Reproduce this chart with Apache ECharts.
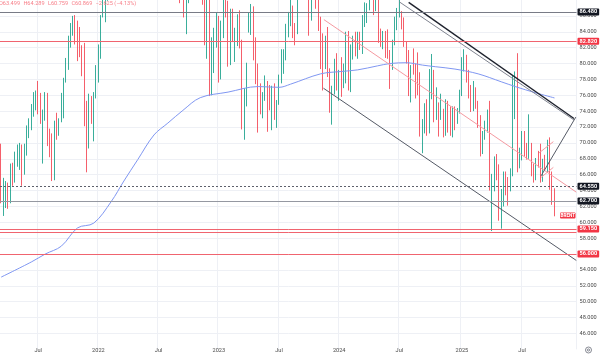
<!DOCTYPE html>
<html><head><meta charset="utf-8">
<script src="https://cdn.jsdelivr.net/npm/echarts@6/dist/echarts.min.js"></script>
<style>html,body{margin:0;padding:0;background:#fff}#c{width:600px;height:358px}</style>
</head><body><div id="c"></div>
<script>
// ---- data (weekly Brent candles, [open, high, low, close]) ----
const firstWeek = '2021-03-15';
const weekSlots = 249; // candle weeks + empty weeks on the right
const ohlc2021 = [
[69.2,69.9,62.4,64.5],[64.2,65.6,60.8,64.6],[64.6,65.2,61.8,64.9],[64.9,65.0,61.7,63.0],
[63.0,67.4,62.4,66.8],[66.8,67.5,64.6,66.1],[66.1,68.9,65.0,67.3],[67.3,69.8,67.0,68.3],
[68.3,70.0,66.6,68.7],[68.7,69.8,64.6,66.4],[66.4,69.9,66.0,69.6],[69.6,72.2,68.4,71.9],
[71.9,73.1,70.6,72.7],[72.7,74.9,71.6,73.5],[73.5,76.4,73.3,76.2],[76.1,76.6,74.1,76.2],
[76.2,77.8,73.6,75.5],[75.5,76.3,72.4,73.6],[73.5,74.2,67.4,74.1],[74.1,76.4,72.8,76.3],
[76.2,76.3,69.6,70.7],[70.7,71.8,68.2,70.6],[70.6,71.2,65.2,65.6],[65.6,72.8,65.3,72.7],
[72.7,73.8,70.4,72.6],[72.6,73.1,70.9,72.9],[72.9,76.3,72.6,75.3],[75.3,78.2,73.1,78.1],
[78.1,80.7,77.6,79.3],[79.3,83.5,79.2,82.4],[82.4,85.1,82.0,84.9],[84.9,86.0,83.5,85.5],
[85.6,86.1,82.4,84.4],[84.4,85.4,80.3,82.7],[82.7,84.6,80.8,82.2],[82.2,82.3,78.4,78.9],
[78.9,82.6,72.1,72.7],[72.7,75.3,66.3,69.9],[70.0,76.2,69.3,75.2],[75.2,75.9,72.4,73.5],
[73.5,76.4,70.2,76.1],[76.1,79.8,75.6,77.8]
];
const ohlc2022 = [
[77.8,82.4,77.6,81.8],[81.8,86.1,80.6,86.1],[86.1,89.5,85.8,87.9],[87.9,91.7,85.2,90.0],
[90.0,94.0,87.9,93.3],[93.3,95.6,89.8,94.4],[94.4,96.8,90.9,93.5],[93.5,105.8,92.9,97.9],
[99.0,119.8,97.5,118.1],[123.0,139.1,105.8,112.7],[112.7,113.5,97.4,107.9],[108.0,122.0,107.3,120.7],
[120.7,121.4,103.5,104.4],[104.4,109.0,98.0,102.8],[102.8,112.6,97.6,111.7],[111.7,114.8,104.8,106.7],
[106.7,109.8,100.2,109.3],[109.3,114.0,102.9,112.4],[112.4,112.5,101.3,111.6],[111.6,115.0,107.0,112.6],
[112.6,120.0,108.6,119.4],[119.4,124.0,113.0,119.7],[119.7,124.0,118.4,122.0],[122.0,123.7,112.4,113.1],
[113.1,115.0,107.0,113.2],[113.1,118.8,108.0,111.6],[111.6,114.0,98.5,107.0],[107.0,107.8,96.6,101.2],
[101.2,108.0,101.0,103.2],[103.2,110.7,100.9,110.0],[110.0,110.3,93.2,94.9],[94.9,100.3,92.8,98.2],
[98.2,98.6,91.5,96.7],[96.7,105.6,95.0,101.0],[101.0,105.0,92.0,93.0],[93.0,97.0,87.6,92.8],
[92.8,95.0,89.6,91.4],[91.4,93.7,85.8,86.2],[86.2,90.0,83.7,88.0],[88.0,98.8,87.6,97.9],
[97.9,98.0,90.9,91.6],[91.6,93.9,89.0,93.5],[93.5,96.6,90.6,95.8],[95.8,98.7,92.4,98.6],
[98.6,99.6,91.9,96.0],[96.0,96.6,87.4,87.6],[87.6,89.8,82.3,83.6],[83.6,89.4,80.6,85.6],
[85.6,88.9,75.9,76.1],[76.1,83.3,76.0,79.0],[79.0,84.5,78.8,83.9],[83.9,86.4,82.0,85.9]
];
const ohlc2023 = [
[85.9,86.0,77.6,78.6],[78.6,85.4,78.0,85.3],[85.3,88.1,83.2,87.6],[87.6,89.1,85.8,86.7],
[86.7,87.9,79.6,80.0],[80.0,86.9,79.8,86.4],[86.4,86.9,82.7,83.0],[83.0,84.5,80.2,83.2],
[83.2,86.2,82.2,85.8],[85.8,86.7,81.9,82.8],[82.8,83.0,71.7,73.0],[73.0,76.9,70.4,75.0],
[75.0,80.1,74.6,79.8],[84.0,86.4,83.9,85.1],[85.1,87.5,83.6,86.3],[86.3,87.2,80.4,81.7],
[81.7,83.3,77.4,79.5],[79.5,80.0,71.3,75.3],[75.3,77.5,73.6,74.2],[74.2,76.4,73.1,75.6],
[75.6,78.5,75.3,77.0],[77.0,77.8,71.4,76.1],[76.8,77.3,74.1,74.8],[74.8,77.2,71.6,76.6],
[76.6,77.5,72.9,73.9],[73.9,75.4,71.9,75.4],[75.5,78.6,74.8,78.5],[78.5,81.8,77.5,79.9],
[79.9,81.8,78.7,81.1],[81.1,85.0,80.4,85.0],[85.0,86.5,83.3,86.2],[86.2,88.1,84.7,86.8],
[86.8,87.3,83.2,84.8],[84.8,85.1,82.3,84.5],[84.5,89.2,83.7,88.6],[88.6,91.2,88.2,90.7],
[90.7,94.3,89.9,93.9],[93.9,95.0,91.8,93.3],[93.3,97.7,91.9,95.3],[95.0,95.5,83.5,84.6],
[87.6,91.0,85.4,90.9],[90.9,94.0,88.9,92.2],[92.2,92.4,86.9,90.5],[90.5,90.8,84.1,84.9],
[84.9,85.9,79.3,81.4],[81.4,83.8,76.6,80.6],[80.5,83.5,79.3,80.6],[80.6,84.6,78.3,78.9],
[78.9,79.4,73.8,75.8],[75.8,77.2,72.3,76.6],[76.6,80.6,76.1,79.1],[79.1,81.3,76.6,77.0]
];
const ohlc2024 = [
[77.0,79.2,75.3,78.8],[78.8,80.8,75.8,78.3],[78.3,80.0,76.9,78.6],[78.6,84.0,77.5,83.6],
[83.6,84.1,76.6,77.3],[77.3,82.4,76.4,82.2],[82.2,83.5,80.5,83.5],[83.5,84.0,80.9,81.6],
[81.6,84.0,80.6,83.6],[83.6,84.0,81.7,82.1],[82.1,86.1,81.2,85.3],[85.3,87.7,84.6,85.4],
[85.4,87.6,85.1,87.5],[87.5,91.9,86.7,91.2],[91.2,91.4,89.1,90.5],[90.5,91.0,86.1,87.3],
[87.3,89.9,86.6,89.5],[89.5,89.9,82.6,83.0],[83.0,84.4,82.1,82.8],[82.8,84.1,81.8,84.0],
[84.0,84.1,80.7,82.1],[82.1,84.3,80.6,81.6],[81.6,81.7,76.8,79.6],[79.6,83.0,79.2,82.6],
[82.6,85.9,82.3,85.2],[85.2,87.0,84.2,86.4],[86.4,88.0,85.8,86.5],[86.5,86.6,84.3,85.0],
[85.0,85.8,82.1,82.6],[82.6,82.8,80.0,81.1],[81.1,81.7,75.9,76.8],[76.8,79.8,75.1,79.7],
[79.8,81.9,78.6,79.7],[79.7,80.0,75.6,79.0],[79.0,81.4,76.0,78.8],[78.8,78.9,70.8,71.1],
[71.1,73.0,68.7,71.6],[71.6,75.0,71.2,74.5],[74.5,75.5,70.9,72.0],[72.0,79.3,71.2,78.1],
[78.1,81.2,75.5,79.0],[79.0,79.2,72.6,73.1],[73.1,77.0,72.9,76.1],[74.0,75.1,70.8,73.1],
[73.1,76.2,72.9,73.9],[73.9,74.3,70.7,71.0],[71.0,75.5,70.9,75.2],[75.2,75.3,71.3,71.8],
[71.8,74.6,70.9,71.1],[71.1,74.6,70.7,74.5],[74.5,74.6,71.6,72.9],[72.9,74.4,72.4,74.2],
[74.2,76.7,73.7,76.5]
];
const ohlc2025 = [
[76.5,80.8,75.9,79.8],[79.8,81.8,79.0,81.0],[81.0,81.1,77.6,78.5],[78.5,79.2,75.6,76.8],
[76.8,77.3,73.9,74.7],[74.6,77.8,74.0,74.7],[74.7,77.0,74.3,74.4],[74.4,75.3,71.9,73.2],
[73.2,73.5,68.3,70.4],[70.4,71.5,68.6,70.6],[70.6,72.8,70.4,72.2],[72.2,74.2,71.3,73.6],
[73.6,75.3,64.0,65.6],[64.2,66.1,58.9,64.8],[64.8,68.3,63.9,68.0],[67.5,68.6,65.3,66.9],
[66.9,67.3,60.2,61.3],[60.0,64.2,59.2,63.9],[63.9,66.4,62.0,65.4],[65.4,66.4,63.4,64.8],
[64.8,65.7,62.1,62.8],[64.0,66.8,63.9,66.5],[66.5,78.5,65.8,74.2],[74.2,79.0,73.0,77.0],
[78.0,81.3,66.3,67.8],[67.8,69.4,66.8,68.3],[68.3,71.5,67.8,70.4],[70.4,71.5,68.3,69.3],
[69.3,70.0,67.9,68.4],[68.4,73.6,68.0,69.7],[69.7,70.0,65.8,66.6],[66.6,67.4,65.0,65.9],
[65.9,68.1,65.3,67.7],[67.7,69.0,66.9,67.5],[67.5,69.9,65.0,65.5],[65.5,68.0,65.1,67.0],
[67.0,68.5,66.6,66.7],[66.7,70.4,66.3,70.1],[70.1,70.7,64.1,64.6],[64.6,66.4,62.2,63.5],
[63.499,64.289,60.759,60.869]
];
// blue moving-average line: [week slot, value]
const maPoints = [[0,53.1],[13,55.0],[19,56.0],[26,57.0],[33,59.3],[40,59.9],[47.5,62.6],[53,65.2],
[59,67.9],[66,71.0],[72,72.5],[78.5,74.1],[86,75.7],[98,76.4],[111,77.1],[120,77.0],[125,77.4],
[138,78.7],[147,79.0],[154,79.2],[162.5,79.7],[168,80.0],[175,80.1],[182,79.8],[187.5,79.6],
[196,79.3],[206,78.7],[216,77.7],[222,77.1],[231,76.3],[239,75.664]];
const maLast = 75.664;
const lastClose = 60.869;
// horizontal levels
const levelValues = [86.48, 82.82, 64.55, 62.70, 59.15, 58.70, 56.00];
const levelKinds  = ['dark','red','dash','grey','red','redNoLabel','red'];
// drawn trend lines: [[slot, price],[slot, price]]
const trendBlack   = [[176.0,87.71],[247.4,73.07]];
const trendGrey    = [[172.0,87.76],[247.4,72.89]];
const trendUp      = [[233.2,65.85],[248.2,73.25]];
const channelLow   = [[139.2,76.89],[248.4,55.20]];
const channelHigh  = [[139.4,85.53],[248.4,63.80]];
const flagTop      = [[232.3,68.73],[238.5,70.16]];
const flagBottom   = [[233.2,65.66],[238.5,66.92]];
const headerText = {o:'63.499', h:'64.289', l:'60.759', c:'60.869', chg:'−2.625 (−4.13%)'};

// ---- build ----
const categories = [];
(function(){ const d0 = new Date(firstWeek+'T00:00:00Z');
  for (let i=0;i<weekSlots;i++){ categories.push(new Date(d0.getTime()+i*7*86400000).toISOString().slice(0,10)); } })();
const allRows = [].concat(ohlc2021, ohlc2022, ohlc2023, ohlc2024, ohlc2025);
const candleData = allRows.map(r => [r[0], r[3], r[2], r[1]]);
function isLabel(i){ const m = +categories[i].slice(5,7); if (m!==1 && m!==7) return false; return i>0 && categories[i-1].slice(5,7)!==categories[i].slice(5,7); }
function labelText(v){ return v.slice(5,7)==='01' ? v.slice(0,4) : 'Jul'; }

const FONT = 'Roboto, "DejaVu Sans", sans-serif';
const RED = '#f23645', TEAL = '#089981';
function boxLabel(text, bg){ return {show:true, position:'end', distance:1, formatter:text, color:'#fff', backgroundColor:bg,
  padding:[1,2,0,2], fontSize:5.6, fontFamily:FONT, fontWeight:'bold', borderRadius:1}; }
const styleByKind = {
  dark: {lineStyle:{color:'#787b86', width:1, type:'solid'}, bg:'#131722'},
  red: {lineStyle:{color:'#f0646f', width:1, type:'solid'}, bg:RED},
  redNoLabel: {lineStyle:{color:'#f0646f', width:1, type:'solid'}, bg:null},
  dash: {lineStyle:{color:'#5d606b', width:1, type:[2,2]}, bg:'#131722'},
  grey: {lineStyle:{color:'#9598a1', width:1.2, type:'solid'}, bg:'#131722'}
};
const markLines = levelValues.map((v,i) => {
  const s = styleByKind[levelKinds[i]];
  return {yAxis:v, lineStyle:s.lineStyle, label: s.bg ? boxLabel(v.toFixed(3), s.bg) : {show:false}};
});
markLines.push({yAxis:maLast, lineStyle:{opacity:0, width:0}, label:boxLabel(maLast.toFixed(3), '#2962ff')});
markLines.push({yAxis:lastClose, lineStyle:{opacity:0, width:0}, label:boxLabel(lastClose.toFixed(3), RED)});

function seg(data, color, width, type){ return {type:'line', xAxisIndex:1, yAxisIndex:0, data:data, symbol:'none', silent:true,
  lineStyle:{color:color, width:width, type:type||'solid'}, z:4, animation:false}; }

const chart = echarts.init(document.getElementById('c'), null, {renderer:'canvas'});
const option = {
  animation:false, backgroundColor:'#ffffff',
  grid:{left:-1.29, right:23.5, top:-8.36, bottom:8.64},
  xAxis:[
    {type:'category', data:categories, boundaryGap:true, axisLine:{show:false}, axisTick:{show:false},
     axisLabel:{interval:isLabel, formatter:labelText, fontSize:5.6, color:'#4a4a4a', fontFamily:FONT, margin:1, verticalAlign:'middle'},
     splitLine:{show:true, interval:isLabel, lineStyle:{color:'#eef0f5', width:1}}},
    {type:'value', min:-0.5, max:weekSlots-0.5, show:false}
  ],
  yAxis:[{type:'value', position:'right', min:44, max:88, interval:2, scale:true,
     axisLine:{show:false}, axisTick:{show:false},
     splitLine:{show:true, showMinLine:false, showMaxLine:false, lineStyle:{color:'#eef0f5', width:1}},
     axisLabel:{formatter:v=>v.toFixed(3), fontSize:5.6, color:'#4a4a4a', fontFamily:FONT, margin:3, showMinLabel:false, showMaxLabel:false}}],
  series:[
    {type:'candlestick', xAxisIndex:0, yAxisIndex:0, data:candleData, barWidth:1.2, clip:true, z:2,
     itemStyle:{color:TEAL, color0:RED, borderColor:TEAL, borderColor0:RED, borderWidth:0.8}},
    {type:'line', xAxisIndex:1, yAxisIndex:0, data:maPoints, symbol:'none', smooth:0.35, silent:true, z:3,
     lineStyle:{color:'#8097f2', width:1},
     markLine:{symbol:['none','none'], silent:true, animation:false, data:markLines}},
    seg(channelHigh, '#f59aa1', 1),
    seg(channelLow, '#555a66', 1),
    seg(trendGrey, '#7f838f', 1),
    seg(trendBlack, '#1e222d', 1.4),
    seg(trendUp, '#555a66', 1),
    seg(flagTop, '#f59aa1', 1),
    seg(flagBottom, '#f59aa1', 1)
  ]
};
chart.setOption(option);

// overlay labels placed through the chart's own scales
const yClose = chart.convertToPixel({yAxisIndex:0}, lastClose);
const xRight = chart.convertToPixel({xAxisIndex:1}, weekSlots-0.5);
chart.setOption({graphic:[
  {type:'rect', shape:{x:xRight-16.5, y:yClose-3, width:15.5, height:6.2, r:1}, style:{fill:RED}, z:100},
  {type:'text', x:xRight-8.75, y:yClose+0.2, style:{text:'BRENT', fill:'#fff', font:'bold 4.6px '+FONT, align:'center', verticalAlign:'middle'}, z:101},
  {type:'text', x:-1, y:4, style:{rich:{
      k:{fill:'#f7808a', font:'5.6px '+FONT}, v:{fill:'#f7808a', font:'5.6px '+FONT}},
      text:'{k|O}{v|'+headerText.o+'} {k|H}{v|'+headerText.h+'} {k|L}{v|'+headerText.l+'} {k|C}{v|'+headerText.c+'} {v|'+headerText.chg+'}',
      verticalAlign:'middle'}, z:100},
  {type:'circle', shape:{cx:588.5, cy:350, r:3}, style:{fill:'none', stroke:'#6a6d78', lineWidth:0.8}, z:100},
  {type:'circle', shape:{cx:588.5, cy:350, r:1.1}, style:{fill:'none', stroke:'#6a6d78', lineWidth:0.8}, z:100}
]});
</script></body></html>
